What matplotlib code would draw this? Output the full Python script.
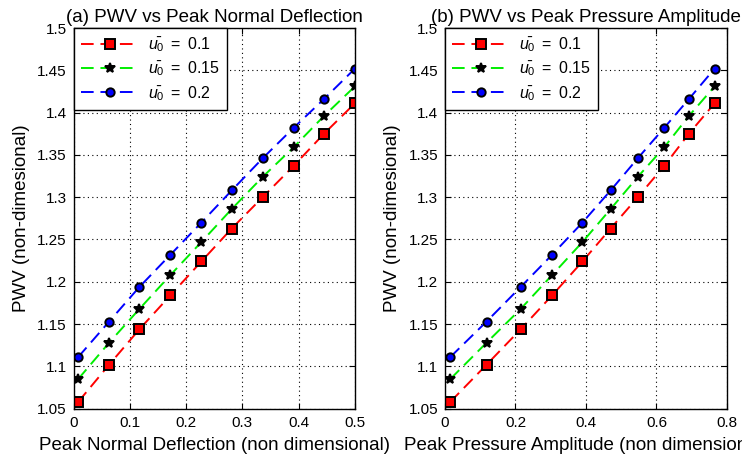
import matplotlib
matplotlib.use("Agg")
import matplotlib.pyplot as plt

plt.rcParams['font.family'] = ['Liberation Sans', 'DejaVu Sans']
plt.rcParams['mathtext.fontset'] = 'custom'
plt.rcParams['mathtext.rm'] = 'Liberation Sans'
plt.rcParams['mathtext.it'] = 'Liberation Sans:italic'

# Data
x_deflection = [0.008, 0.063, 0.117, 0.172, 0.227, 0.281, 0.336, 0.391, 0.445, 0.500]
x_pressure = [0.015, 0.118, 0.215, 0.304, 0.390, 0.470, 0.547, 0.622, 0.692, 0.765]
pwv_u01 = [1.058, 1.102, 1.144, 1.184, 1.224, 1.263, 1.300, 1.337, 1.375, 1.411]
pwv_u015 = [1.085, 1.128, 1.168, 1.208, 1.247, 1.286, 1.324, 1.359, 1.396, 1.431]
pwv_u02 = [1.111, 1.153, 1.194, 1.232, 1.270, 1.308, 1.346, 1.382, 1.416, 1.452]
labels = [r'$\bar{u_0}\ =\ 0.1$', r'$\bar{u_0}\ =\ 0.15$', r'$\bar{u_0}\ =\ 0.2$']
yticks = [1.05, 1.1, 1.15, 1.2, 1.25, 1.3, 1.35, 1.4, 1.45, 1.5]
ytick_labels = ['1.05', '1.1', '1.15', '1.2', '1.25', '1.3', '1.35', '1.4', '1.45', '1.5']
xticks_a = [0, 0.1, 0.2, 0.3, 0.4, 0.5]
xtick_labels_a = ['0', '0.1', '0.2', '0.3', '0.4', '0.5']
xticks_b = [0, 0.2, 0.4, 0.6, 0.8]
xtick_labels_b = ['0', '0.2', '0.4', '0.6', '0.8']

fig = plt.figure(figsize=(7.42, 4.63), dpi=100)
ax1 = fig.add_axes([0.0993, 0.1173, 0.379, 0.8222])
ax2 = fig.add_axes([0.5997, 0.1173, 0.380, 0.8222])

series = [
    (pwv_u01, 'red', 's', 'red', 7),
    (pwv_u015, '#00ee00', '*', 'black', 7.5),
    (pwv_u02, 'blue', 'o', 'blue', 6),
]

def draw(ax, x, xticks, xlabels, xlim, title, xlabel):
    for (y, col, mk, mfc, ms), lab in zip(series, labels):
        ax.plot(x, y, linestyle=(0, (6.5, 3.5)), color=col, lw=1.4, marker=mk,
                markerfacecolor=mfc, markeredgecolor='black', markeredgewidth=1.4,
                markersize=ms, label=lab)
    ax.set_xlim(*xlim)
    ax.set_ylim(1.05, 1.5)
    ax.set_xticks(xticks)
    ax.set_xticklabels(xlabels)
    ax.set_yticks(yticks)
    ax.set_yticklabels(ytick_labels)
    ax.grid(True, linestyle=(0, (1, 3)), color='black', lw=0.8)
    ax.tick_params(direction='in', top=True, right=True, labelsize=11, length=4, pad=5)
    for s in ax.spines.values():
        s.set_linewidth(1.0)
    ax.set_title(title, fontsize=13.5, pad=4)
    ax.set_xlabel(xlabel, fontsize=13.5, labelpad=5)
    ax.set_ylabel('PWV (non-dimesional)', fontsize=13.5, labelpad=5)
    leg = ax.legend(loc='upper left', fontsize=11.5, fancybox=False, framealpha=1,
                    edgecolor='black', borderaxespad=0.0, handlelength=3.6,
                    handletextpad=0.6, borderpad=0.45, labelspacing=0.35)
    leg.get_frame().set_linewidth(1.0)

draw(ax1, x_deflection, xticks_a, xtick_labels_a, (0, 0.5),
     '(a) PWV vs Peak Normal Deflection', 'Peak Normal Deflection (non dimensional)')
draw(ax2, x_pressure, xticks_b, xtick_labels_b, (0, 0.8),
     '(b) PWV vs Peak Pressure Amplitude', 'Peak Pressure Amplitude (non dimensional)')

fig.savefig('out.png', dpi=100)
